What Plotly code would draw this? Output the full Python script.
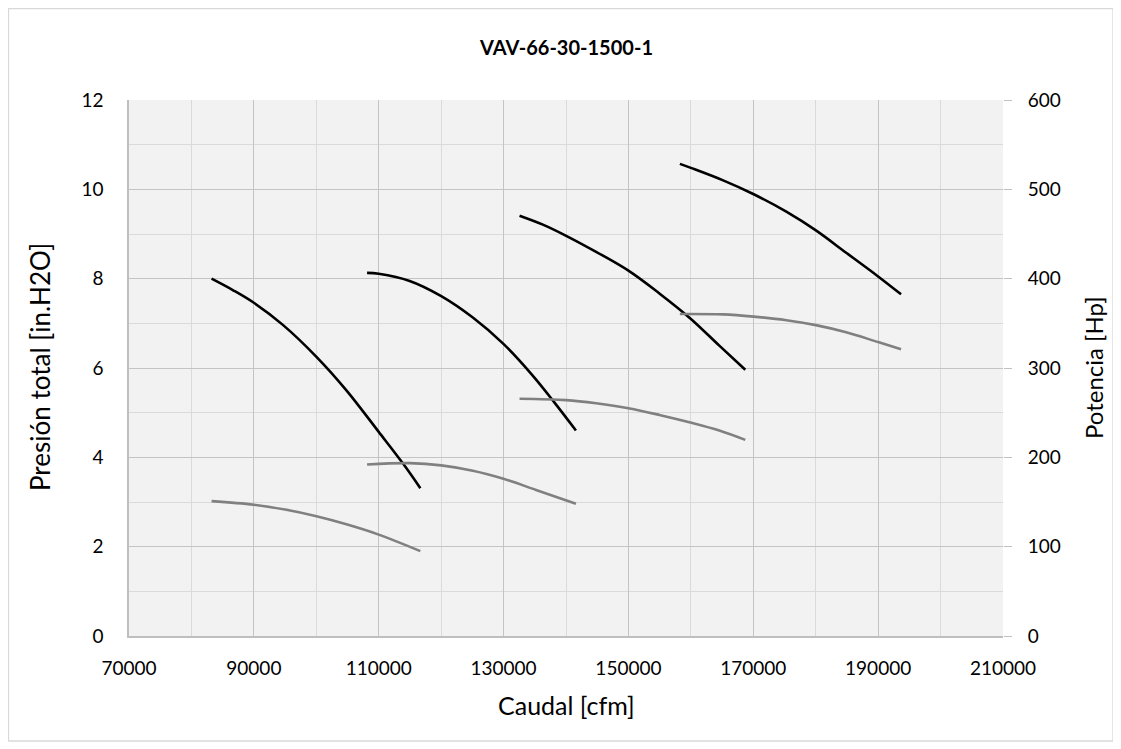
import plotly.graph_objects as go

# Pressure curves (left axis, in.H2O)
p1_x = [83227, 86693, 90000, 94693, 100027, 104827, 110000, 113893, 116667]
p1_y = [8.00, 7.74, 7.46, 6.96, 6.25, 5.50, 4.57, 3.86, 3.31]
p2_x = [108135, 110000, 114955, 120016, 125077, 129979, 134667, 138130, 141593]
p2_y = [8.13, 8.11, 7.95, 7.61, 7.13, 6.54, 5.83, 5.23, 4.60]
p3_x = [132560, 136293, 140027, 144827, 150000, 154960, 159920, 164560, 168720]
p3_y = [9.41, 9.21, 8.96, 8.60, 8.18, 7.67, 7.11, 6.50, 5.96]
p4_x = [158242, 160000, 165168, 170069, 175290, 180032, 184880, 189995, 193670]
p4_y = [10.57, 10.48, 10.20, 9.89, 9.50, 9.08, 8.58, 8.05, 7.65]

# Power curves (right axis, Hp)
w1_x = [83227, 90000, 95000, 100027, 104827, 110000, 116667]
w1_y = [151.0, 147.0, 141.5, 134.0, 125.0, 113.5, 95.0]
w2_x = [108135, 114955, 120016, 125077, 129979, 135200, 141593]
w2_y = [192.0, 193.5, 191.0, 185.0, 176.0, 163.5, 148.0]
w3_x = [132560, 140027, 144827, 150000, 154960, 159920, 164560, 168720]
w3_y = [265.5, 264.0, 260.5, 255.0, 247.5, 239.0, 230.0, 219.5]
w4_x = [158242, 165168, 170069, 175290, 180032, 184880, 189995, 193670]
w4_y = [360.5, 360.0, 357.5, 353.5, 348.0, 340.0, 329.0, 321.0]

FONT = "Lato"
OFF = 8                      # page body margin
W, H = 1121 - OFF, 749 - OFF
# plot-area edges in page pixels
PL, PR, PT, PB = 129, 1003, 100, 636
L, R, T, B = PL - OFF, W - (PR - OFF), PT - OFF, H - (PB - OFF)
PW, PH = W - L - R, H - T - B


def px_x(px):
    return (px - OFF - L) / PW


def px_y(py):
    return (H - B - (py - OFF)) / PH


fig = go.Figure()
for xs, ys in [(w1_x, w1_y), (w2_x, w2_y), (w3_x, w3_y), (w4_x, w4_y)]:
    fig.add_trace(go.Scatter(x=xs, y=ys, mode="lines", yaxis="y2",
                             line=dict(color="#808080", width=2.6, shape="spline", smoothing=1.0),
                             showlegend=False, hoverinfo="skip"))
for xs, ys in [(p1_x, p1_y), (p2_x, p2_y), (p3_x, p3_y), (p4_x, p4_y)]:
    fig.add_trace(go.Scatter(x=xs, y=ys, mode="lines",
                             line=dict(color="#000000", width=2.6, shape="spline", smoothing=1.0),
                             showlegend=False, hoverinfo="skip"))

tickfont = dict(family=FONT, size=19, color="#000000")
fig.update_layout(
    width=W, height=H,
    margin=dict(l=L, r=R, t=T, b=B, autoexpand=False),
    paper_bgcolor="white",
    plot_bgcolor="#f2f2f2",
    font=dict(family=FONT, size=19, color="#000000"),
    xaxis=dict(range=[70000, 210000], dtick=20000, tick0=70000, showgrid=True,
               gridcolor="#c4c4c4", gridwidth=1.3,
               minor=dict(dtick=10000, tick0=70000, showgrid=True, gridcolor="#dadada", gridwidth=1.3),
               showline=True, linecolor="#bfbfbf", linewidth=1.5,
               ticks="", tickformat="d", zeroline=False, automargin=False,
               tickfont=tickfont, ticklabelstandoff=14),
    yaxis=dict(range=[0, 12], dtick=2, showgrid=True, gridcolor="#c4c4c4", gridwidth=1.3,
               minor=dict(dtick=1, showgrid=True, gridcolor="#dadada", gridwidth=1.3),
               showline=True, linecolor="#bfbfbf", linewidth=1.5, ticks="", zeroline=False,
               automargin=False, tickfont=tickfont, ticklabelstandoff=20),
    yaxis2=dict(range=[0, 600], dtick=100, overlaying="y", side="right",
                showgrid=False, zeroline=False, showline=False,
                ticks="outside", ticklen=8, tickcolor="#bfbfbf", tickwidth=1.3,
                automargin=False, tickfont=tickfont, ticklabelstandoff=12),
)

annotations = [
    dict(text="<b>VAV-66-30-1500-1</b>", x=px_x(566), y=px_y(47), font=dict(size=20, family=FONT)),
    dict(text="Caudal [cfm]", x=px_x(566), y=px_y(705), font=dict(size=25, family=FONT)),
    dict(text="Presión total [in.H2O]", x=px_x(40), y=px_y(367), textangle=-90,
         font=dict(size=26, family=FONT)),
    dict(text="Potencia [Hp]", x=px_x(1093), y=px_y(368), textangle=-90,
         font=dict(size=24, family=FONT)),
]
for a in annotations:
    fig.add_annotation(xref="paper", yref="paper", showarrow=False,
                       xanchor="center", yanchor="middle", **a)

# outer chart border
fig.add_shape(type="rect", xref="paper", yref="paper",
              x0=px_x(8.5), x1=px_x(1113), y0=px_y(741), y1=px_y(8.5),
              line=dict(color="#d9d9d9", width=1.3), layer="below")

fig.write_html("out.html")
